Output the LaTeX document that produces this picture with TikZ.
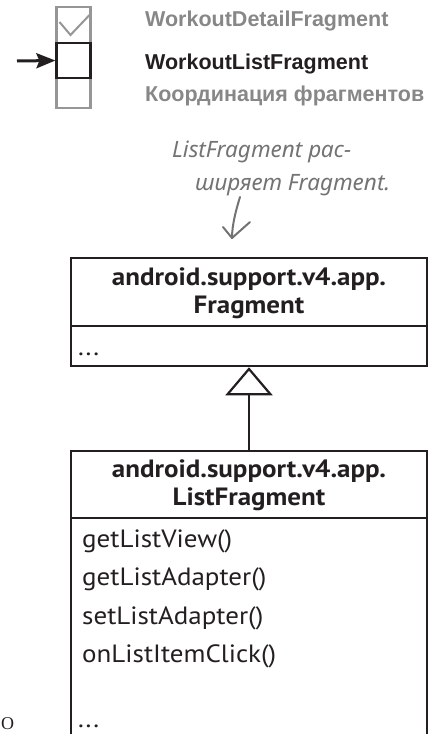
\documentclass[tikz,border=0pt]{standalone}
\usepackage{fontspec}
\setmainfont{PT Sans}[FakeStretch=1.08]
\newfontfamily\headfont{Liberation Sans}
\newfontfamily\handfont{Noto Sans}
\newfontfamily\cutfont{Liberation Serif}
\usetikzlibrary{arrows.meta}
\definecolor{ink}{RGB}{35,31,32}
\definecolor{lgray}{RGB}{150,150,150}
\definecolor{tgray}{RGB}{135,135,135}
\definecolor{hgray}{RGB}{115,115,115}
\begin{document}
\begin{tikzpicture}[x=1pt,y=-1pt,
  umlbox/.style={draw=ink, line width=2.5pt, minimum width=356pt, inner sep=0pt},
  umltitle/.style={font=\fontsize{25}{28}\selectfont\bfseries, text=ink, align=center, inner sep=0pt},
  method/.style={font=\fontsize{25}{28}\selectfont, text=ink, anchor=base west, inner sep=0pt},
  legend/.style={font=\headfont\bfseries\fontsize{21.5}{24}\selectfont, anchor=base west, inner sep=0pt},
  cbox/.style={minimum width=34pt, inner sep=0pt, line width=2.2pt},
  hand/.style={font=\handfont\itshape\fontsize{22.5}{26}\selectfont, text=hgray, anchor=base west, inner sep=0pt}]
\useasboundingbox (0,0) rectangle (436,734);

% checkbox column
\node[cbox, draw=lgray, minimum height=36pt] (cbtop) at (73.5,25) {};
\node[cbox, draw=lgray, minimum height=30pt] (cbbot) at (73.5,93) {};
\node[cbox, draw=ink, minimum height=35pt] (cbmid) at (73.5,60.5) {};
\draw[lgray, line width=2pt, line join=miter] ([shift={(-14,-3)}]cbtop.center) -- ([shift={(-3,10)}]cbtop.center) -- ([shift={(16,-10)}]cbtop.center);
\coordinate (arrstart) at (17,61);
\draw[ink, line width=3pt, -{Stealth[length=19pt,width=15pt,inset=3pt]}] (arrstart) -- (cbmid.west);

% legend
\node[legend, text=tgray] (l1) at (145,26) {WorkoutDetailFragment};
\node[legend, text=ink] (l2) at (145,69) {WorkoutListFragment};
\node[legend, text=tgray] (l3) at (145,101) {Координация фрагментов};

% handwritten note
\node[hand] (n1) at (172,157) {ListFragment рас-};
\node[hand] (n2) at (195,190) {ширяет Fragment.};
\coordinate (hstart) at (240,197);
\coordinate (htip) at (232,238);
\draw[hgray, line width=2pt, line cap=round] (hstart) .. controls (236,210) and (232,225) .. (htip);
\draw[hgray, line width=2pt, line cap=round, line join=round] (223,227) -- (htip) -- (250,222);

% Fragment class
\node[umlbox, minimum height=68pt] (fhead) at (249,292) {};
\node[umltitle] (ftitle) at ([yshift=-1pt]fhead.center) {android.support.v4.app.\\Fragment};
\node[umlbox, minimum height=40pt] (fattr) at (249,346) {};
\node[method] (fdots) at (78,355) {...};

% ListFragment class
\node[umlbox, minimum height=67pt] (lhead) at (249,484.5) {};
\node[umltitle] (ltitle) at ([yshift=-1pt]lhead.center) {android.support.v4.app.\\ListFragment};
\node[minimum width=356pt, minimum height=222pt, inner sep=0pt] (lbody) at (249,629) {};
\draw[ink, line width=2.5pt] (lbody.north west) -- (lbody.south west);
\draw[ink, line width=2.5pt] (lbody.north east) -- (lbody.south east);
\node[method] (m1) at (82,547) {getListView()};
\node[method] (m2) at (82,585) {getListAdapter()};
\node[method] (m3) at (82,624) {setListAdapter()};
\node[method] (m4) at (82,662) {onListItemClick()};
\node[method] (m5) at (78,727) {...};

% inheritance
\draw[ink, line width=2.2pt, -{Triangle[open, length=28pt, width=47pt]}] (lhead.north) -- (fattr.south);

% letter at page edge
\node[font=\cutfont\fontsize{18}{20}\selectfont, text=ink, inner sep=0pt, anchor=west] (cutO) at (1,724) {O};
\end{tikzpicture}
\end{document}
